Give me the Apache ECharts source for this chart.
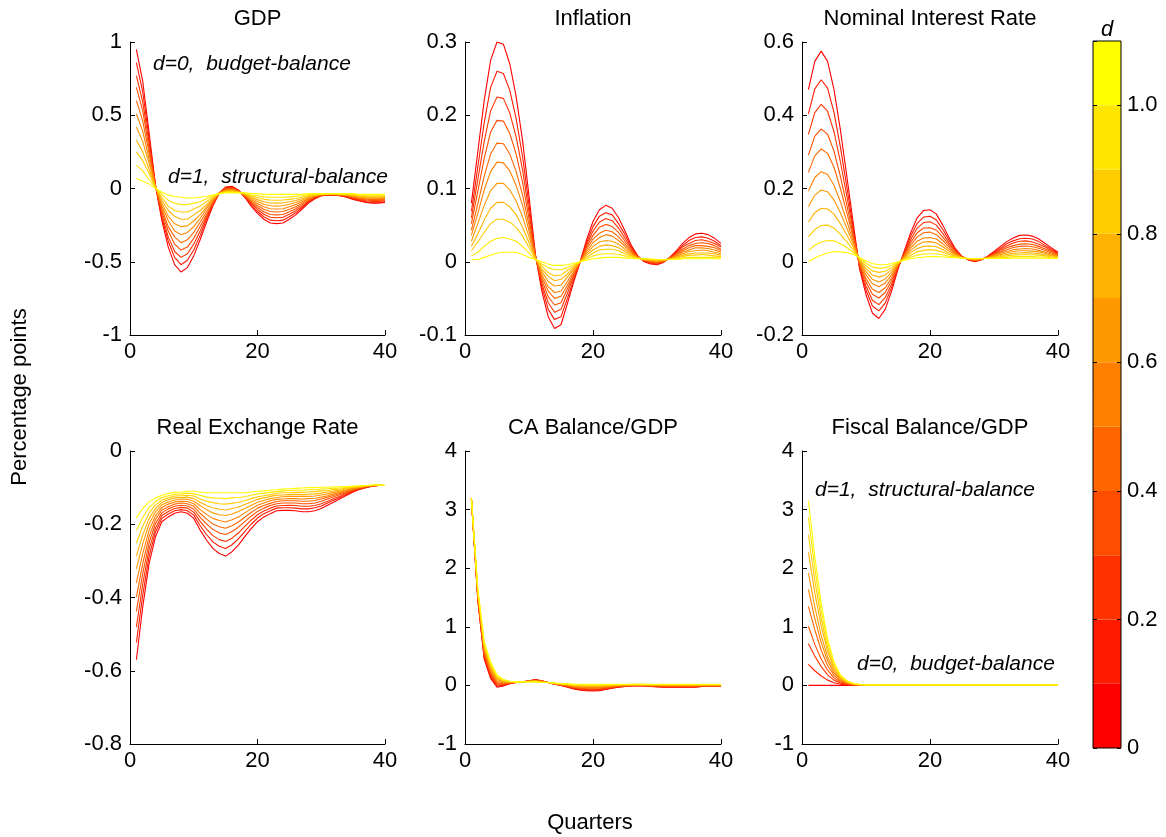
<!DOCTYPE html>
<html><head><meta charset="utf-8">
<script src="https://cdn.jsdelivr.net/npm/echarts@6/dist/echarts.min.js"></script>
<style>html,body{margin:0;padding:0;background:#fff}#c{width:1166px;height:837px}</style>
</head><body><div id="c"></div>
<script>
// ---------------- DATA ----------------
const quarters = [1,2,3,4,5,6,7,8,9,10,11,12,13,14,15,16,17,18,19,20,21,22,23,24,25,26,27,28,29,30,31,32,33,34,35,36,37,38,39,40];
const dLevels = [0,0.1,0.2,0.3,0.4,0.5,0.6,0.7,0.8,0.9,1.0];
const colorbarBand = 0.1;
const panelTitles = ['GDP','Inflation','Nominal Interest Rate','Real Exchange Rate','CA Balance/GDP','Fiscal Balance/GDP'];
const xTicks = [0,20,40];
const gdpTicks = [-1,-0.5,0,0.5,1];
const inflationTicks = [-0.1,0,0.1,0.2,0.3];
const interestTicks = [-0.2,0,0.2,0.4,0.6];
const rerTicks = [-0.8,-0.6,-0.4,-0.2,0];
const caTicks = [-1,0,1,2,3,4];
const fiscalTicks = [-1,0,1,2,3,4];
const colorbarTicks = [0,0.2,0.4,0.6,0.8,1.0];
const colorbarMax = 1.1;

// each row: one quarter, values for d = 0, 0.1, ..., 1.0
const gdp = [
[.95,.86,.77,.69,.60,.51,.42,.33,.25,.16,.07],
[.73,.66,.59,.53,.46,.39,.32,.25,.19,.12,.05],
[.38,.34,.31,.27,.24,.20,.17,.13,.10,.06,.03],
[.02,.02,.02,.015,.015,.01,.01,.01,.005,.005,0],
[-.22,-.20,-.18,-.16,-.14,-.12,-.10,-.08,-.06,-.04,-.025],
[-.40,-.36,-.33,-.29,-.26,-.22,-.19,-.15,-.12,-.08,-.045],
[-.52,-.47,-.43,-.38,-.33,-.29,-.24,-.19,-.15,-.10,-.055],
[-.57,-.52,-.47,-.42,-.37,-.315,-.26,-.21,-.16,-.11,-.06],
[-.54,-.49,-.445,-.40,-.35,-.30,-.255,-.21,-.16,-.11,-.065],
[-.46,-.42,-.38,-.34,-.30,-.26,-.22,-.18,-.14,-.10,-.065],
[-.35,-.32,-.29,-.26,-.23,-.205,-.18,-.15,-.12,-.09,-.06],
[-.23,-.21,-.195,-.18,-.16,-.14,-.125,-.11,-.09,-.07,-.055],
[-.12,-.11,-.105,-.10,-.09,-.08,-.075,-.07,-.06,-.05,-.045],
[-.03,-.03,-.03,-.03,-.03,-.03,-.03,-.035,-.035,-.035,-.035],
[.01,.006,.002,-.002,-.006,-.01,-.014,-.018,-.022,-.026,-.03],
[.015,.01,.006,.002,-.003,-.008,-.012,-.016,-.021,-.025,-.03],
[-.01,-.012,-.014,-.016,-.018,-.02,-.022,-.024,-.026,-.028,-.03],
[-.06,-.057,-.054,-.051,-.048,-.045,-.042,-.039,-.036,-.033,-.03],
[-.12,-.11,-.10,-.095,-.086,-.078,-.069,-.06,-.052,-.044,-.035],
[-.17,-.157,-.143,-.13,-.116,-.103,-.089,-.076,-.062,-.049,-.035],
[-.21,-.193,-.176,-.159,-.142,-.125,-.108,-.091,-.074,-.057,-.04],
[-.235,-.216,-.196,-.177,-.157,-.138,-.118,-.099,-.079,-.06,-.04],
[-.24,-.22,-.20,-.18,-.16,-.14,-.12,-.10,-.08,-.06,-.04],
[-.235,-.216,-.196,-.177,-.157,-.138,-.118,-.099,-.079,-.06,-.04],
[-.21,-.193,-.176,-.159,-.142,-.125,-.108,-.091,-.074,-.057,-.04],
[-.18,-.166,-.152,-.138,-.124,-.11,-.096,-.082,-.068,-.054,-.04],
[-.14,-.13,-.12,-.11,-.10,-.09,-.08,-.07,-.06,-.05,-.04],
[-.10,-.094,-.087,-.081,-.074,-.068,-.061,-.055,-.048,-.042,-.035],
[-.07,-.067,-.063,-.06,-.056,-.053,-.049,-.046,-.042,-.039,-.035],
[-.05,-.049,-.047,-.046,-.044,-.043,-.041,-.04,-.038,-.037,-.035],
[-.045,-.044,-.043,-.042,-.041,-.04,-.039,-.038,-.037,-.036,-.035],
[-.045,-.044,-.043,-.042,-.041,-.04,-.039,-.038,-.037,-.036,-.035],
[-.05,-.049,-.047,-.046,-.044,-.043,-.041,-.04,-.038,-.037,-.035],
[-.06,-.058,-.055,-.053,-.05,-.048,-.045,-.043,-.04,-.038,-.035],
[-.075,-.071,-.067,-.063,-.059,-.055,-.051,-.047,-.043,-.039,-.035],
[-.085,-.081,-.076,-.072,-.067,-.063,-.058,-.054,-.049,-.045,-.04],
[-.095,-.09,-.084,-.079,-.073,-.068,-.062,-.057,-.051,-.046,-.04],
[-.10,-.094,-.088,-.082,-.076,-.07,-.064,-.058,-.052,-.046,-.04],
[-.10,-.094,-.088,-.082,-.076,-.07,-.064,-.058,-.052,-.046,-.04],
[-.095,-.09,-.084,-.079,-.073,-.068,-.062,-.057,-.051,-.046,-.04]
];

const inflation = [
[.080,.069,.060,.052,.043,.036,.028,.021,.015,.008,.003],
[.150,.129,.112,.096,.079,.066,.052,.038,.027,.013,.003],
[.220,.190,.164,.141,.117,.098,.077,.057,.040,.021,.006],
[.275,.238,.206,.177,.147,.123,.097,.073,.052,.028,.009],
[.300,.260,.225,.193,.162,.136,.107,.081,.058,.032,.012],
[.297,.257,.223,.192,.161,.135,.107,.081,.058,.033,.013],
[.270,.234,.203,.175,.147,.124,.098,.075,.054,.031,.013],
[.225,.195,.170,.147,.123,.104,.083,.064,.047,.028,.013],
[.165,.143,.125,.108,.091,.077,.061,.047,.035,.021,.010],
[.090,.078,.068,.059,.050,.042,.034,.026,.019,.012,.006],
[.010,.009,.008,.007,.007,.006,.005,.005,.004,.003,.003],
[-.040,-.034,-.030,-.025,-.021,-.017,-.013,-.010,-.006,-.003,0],
[-.075,-.065,-.056,-.048,-.040,-.034,-.027,-.020,-.015,-.008,-.003],
[-.091,-.079,-.069,-.059,-.050,-.042,-.033,-.026,-.019,-.011,-.005],
[-.086,-.075,-.065,-.056,-.047,-.040,-.032,-.024,-.018,-.011,-.005],
[-.057,-.050,-.043,-.037,-.032,-.027,-.021,-.017,-.012,-.008,-.004],
[-.027,-.024,-.020,-.018,-.015,-.013,-.010,-.008,-.006,-.004,-.002],
[0,0,0,0,0,0,0,0,0,0,0],
[.030,.026,.023,.020,.017,.014,.011,.009,.006,.004,.002],
[.055,.048,.042,.036,.031,.026,.021,.016,.012,.008,.004],
[.071,.062,.054,.047,.039,.033,.027,.021,.016,.010,.005],
[.077,.067,.059,.051,.043,.037,.029,.023,.017,.011,.006],
[.073,.064,.056,.048,.041,.035,.028,.022,.017,.011,.006],
[.060,.052,.046,.040,.034,.029,.024,.019,.015,.010,.006],
[.042,.037,.032,.028,.024,.021,.017,.014,.011,.008,.005],
[.022,.020,.018,.016,.014,.012,.011,.009,.008,.006,.005],
[.008,.007,.007,.007,.006,.006,.005,.005,.005,.004,.004],
[0,.001,.001,.001,.002,.002,.003,.003,.003,.004,.004],
[-.003,-.002,-.001,0,0,.001,.002,.002,.003,.003,.004],
[-.004,-.003,-.002,-.001,-.001,0,.001,.001,.002,.003,.003],
[-.001,0,0,0,.001,.001,.002,.002,.002,.003,.003],
[.006,.006,.005,.005,.005,.004,.004,.004,.003,.003,.003],
[.015,.013,.012,.011,.009,.008,.007,.006,.005,.004,.003],
[.025,.022,.020,.017,.015,.013,.011,.009,.007,.005,.004],
[.033,.029,.025,.022,.019,.016,.014,.011,.009,.006,.004],
[.038,.033,.029,.025,.022,.019,.015,.012,.009,.006,.004],
[.039,.034,.030,.026,.022,.019,.016,.012,.010,.006,.004],
[.037,.032,.028,.025,.021,.018,.015,.012,.009,.006,.004],
[.032,.028,.025,.022,.019,.016,.013,.011,.008,.006,.004],
[.025,.022,.020,.017,.015,.013,.011,.009,.007,.005,.004]
];

const interest = [
[.470,.404,.348,.291,.244,.193,.150,.108,.068,.031,0],
[.547,.472,.407,.343,.289,.230,.182,.134,.088,.045,.010],
[.575,.497,.430,.363,.308,.246,.196,.146,.099,.054,.018],
[.547,.474,.411,.348,.296,.238,.191,.144,.100,.058,.024],
[.470,.408,.355,.302,.258,.209,.169,.130,.092,.057,.028],
[.360,.313,.273,.233,.200,.164,.134,.104,.075,.049,.027],
[.234,.205,.180,.155,.134,.111,.092,.073,.055,.039,.025],
[.106,.094,.084,.073,.065,.055,.048,.040,.032,.026,.020],
[-.020,-.016,-.012,-.008,-.005,-.001,.002,.005,.007,.010,.012],
[-.090,-.077,-.066,-.055,-.046,-.036,-.027,-.019,-.011,-.004,.002],
[-.140,-.121,-.105,-.089,-.075,-.060,-.048,-.036,-.025,-.014,-.005],
[-.155,-.134,-.117,-.099,-.084,-.068,-.055,-.042,-.029,-.018,-.008],
[-.130,-.113,-.098,-.084,-.071,-.058,-.047,-.036,-.026,-.016,-.008],
[-.080,-.070,-.061,-.052,-.044,-.036,-.029,-.022,-.016,-.010,-.005],
[-.020,-.017,-.015,-.012,-.010,-.008,-.006,-.005,-.003,-.001,0],
[.030,.026,.023,.020,.018,.015,.012,.010,.008,.006,.004],
[.080,.070,.061,.053,.045,.038,.031,.025,.018,.013,.008],
[.120,.105,.092,.079,.068,.056,.046,.036,.027,.018,.011],
[.140,.122,.107,.092,.079,.065,.054,.042,.031,.021,.013],
[.142,.124,.109,.093,.081,.066,.055,.043,.033,.022,.014],
[.130,.114,.100,.086,.074,.062,.051,.041,.031,.022,.014],
[.100,.088,.077,.067,.058,.049,.041,.033,.026,.019,.013],
[.065,.058,.051,.045,.040,.034,.029,.024,.020,.015,.012],
[.035,.032,.029,.026,.023,.021,.019,.017,.014,.013,.011],
[.015,.014,.014,.013,.013,.012,.012,.011,.011,.010,.010],
[.005,.006,.006,.007,.007,.007,.008,.008,.008,.009,.009],
[0,.001,.002,.003,.004,.005,.006,.007,.008,.008,.009],
[.005,.006,.006,.007,.007,.007,.008,.008,.008,.009,.009],
[.015,.014,.013,.013,.012,.011,.011,.010,.010,.009,.009],
[.028,.025,.023,.021,.019,.017,.015,.013,.012,.010,.009],
[.042,.037,.033,.029,.026,.023,.020,.017,.014,.011,.009],
[.055,.049,.043,.038,.033,.028,.024,.020,.016,.012,.009],
[.065,.057,.051,.044,.039,.033,.028,.023,.018,.014,.010],
[.072,.063,.056,.048,.042,.035,.030,.024,.019,.014,.010],
[.073,.064,.057,.049,.043,.036,.030,.025,.019,.014,.010],
[.070,.062,.054,.047,.041,.035,.029,.024,.019,.014,.010],
[.062,.055,.048,.042,.037,.031,.027,.022,.018,.013,.010],
[.050,.044,.040,.035,.031,.026,.023,.019,.016,.013,.010],
[.038,.034,.030,.027,.024,.021,.018,.016,.013,.011,.009],
[.026,.024,.022,.020,.018,.016,.014,.013,.011,.010,.009]
];

const rer = [
[-.570,-.523,-.481,-.438,-.399,-.360,-.322,-.287,-.252,-.217,-.182],
[-.425,-.393,-.363,-.334,-.307,-.280,-.253,-.229,-.205,-.181,-.157],
[-.307,-.287,-.268,-.250,-.233,-.216,-.199,-.184,-.169,-.154,-.139],
[-.234,-.221,-.210,-.198,-.187,-.177,-.166,-.157,-.147,-.138,-.128],
[-.193,-.184,-.176,-.169,-.161,-.154,-.147,-.140,-.134,-.127,-.121],
[-.180,-.172,-.165,-.158,-.152,-.145,-.139,-.133,-.128,-.122,-.116],
[-.170,-.163,-.157,-.151,-.145,-.139,-.134,-.128,-.123,-.118,-.113],
[-.166,-.160,-.154,-.148,-.142,-.137,-.131,-.127,-.122,-.117,-.112],
[-.170,-.163,-.156,-.150,-.144,-.138,-.132,-.126,-.121,-.115,-.110],
[-.184,-.175,-.167,-.159,-.151,-.144,-.137,-.130,-.123,-.117,-.110],
[-.216,-.204,-.192,-.181,-.170,-.160,-.149,-.140,-.131,-.121,-.112],
[-.243,-.228,-.213,-.199,-.186,-.173,-.160,-.149,-.137,-.126,-.114],
[-.266,-.248,-.231,-.214,-.199,-.184,-.169,-.155,-.141,-.128,-.114],
[-.280,-.260,-.242,-.224,-.207,-.190,-.174,-.159,-.144,-.129,-.114],
[-.287,-.266,-.247,-.228,-.211,-.194,-.176,-.161,-.145,-.130,-.114],
[-.275,-.256,-.238,-.220,-.204,-.188,-.172,-.157,-.143,-.128,-.114],
[-.257,-.240,-.224,-.208,-.194,-.180,-.165,-.153,-.140,-.127,-.114],
[-.234,-.220,-.206,-.193,-.181,-.169,-.157,-.146,-.136,-.125,-.114],
[-.212,-.200,-.189,-.178,-.168,-.158,-.148,-.139,-.130,-.121,-.112],
[-.193,-.183,-.174,-.165,-.156,-.148,-.140,-.132,-.125,-.117,-.110],
[-.180,-.171,-.164,-.156,-.149,-.142,-.135,-.128,-.122,-.115,-.109],
[-.171,-.163,-.156,-.149,-.143,-.136,-.130,-.124,-.119,-.113,-.107],
[-.163,-.156,-.150,-.144,-.138,-.132,-.127,-.121,-.116,-.111,-.106],
[-.162,-.155,-.149,-.142,-.136,-.131,-.125,-.120,-.114,-.109,-.104],
[-.162,-.155,-.148,-.142,-.136,-.130,-.124,-.119,-.114,-.108,-.103],
[-.163,-.156,-.149,-.142,-.136,-.130,-.124,-.118,-.113,-.107,-.102],
[-.166,-.158,-.151,-.144,-.137,-.131,-.124,-.119,-.113,-.107,-.101],
[-.166,-.158,-.151,-.144,-.137,-.130,-.124,-.118,-.112,-.106,-.100],
[-.163,-.155,-.149,-.142,-.135,-.129,-.123,-.117,-.111,-.106,-.100],
[-.157,-.150,-.144,-.137,-.131,-.126,-.120,-.115,-.109,-.104,-.099],
[-.148,-.142,-.137,-.131,-.126,-.122,-.117,-.112,-.108,-.103,-.099],
[-.139,-.134,-.130,-.125,-.121,-.117,-.113,-.109,-.105,-.102,-.098],
[-.130,-.126,-.123,-.119,-.116,-.113,-.110,-.107,-.104,-.101,-.098],
[-.121,-.118,-.115,-.113,-.110,-.108,-.106,-.103,-.101,-.099,-.097],
[-.112,-.110,-.108,-.107,-.105,-.103,-.102,-.100,-.099,-.097,-.096],
[-.105,-.104,-.103,-.102,-.101,-.100,-.099,-.098,-.097,-.096,-.095],
[-.100,-.099,-.099,-.098,-.097,-.097,-.096,-.096,-.095,-.095,-.094],
[-.096,-.096,-.095,-.095,-.095,-.094,-.094,-.094,-.094,-.093,-.093],
[-.094,-.094,-.094,-.094,-.094,-.093,-.093,-.093,-.093,-.093,-.093],
[-.094,-.094,-.094,-.094,-.094,-.094,-.094,-.094,-.094,-.094,-.094]
];

const caBalance = [
[3.18,3.18,3.18,3.19,3.19,3.19,3.19,3.19,3.20,3.20,3.20],
[1.45,1.47,1.49,1.51,1.53,1.55,1.57,1.59,1.61,1.63,1.65],
[.45,.48,.51,.54,.57,.60,.63,.66,.69,.72,.75],
[.12,.15,.18,.20,.23,.26,.29,.32,.34,.37,.40],
[-.03,-.01,.01,.03,.05,.075,.10,.12,.14,.16,.18],
[-.01,0,.01,.02,.03,.045,.06,.07,.08,.09,.10],
[.03,.034,.038,.042,.046,.05,.054,.058,.062,.066,.07],
[.05,.051,.052,.053,.054,.055,.056,.057,.058,.059,.06],
[.06,.06,.06,.06,.06,.06,.06,.06,.06,.06,.06],
[.08,.078,.076,.074,.072,.07,.068,.066,.064,.062,.06],
[.10,.096,.092,.088,.084,.08,.076,.072,.068,.064,.06],
[.08,.077,.074,.071,.068,.065,.062,.059,.056,.053,.05],
[.05,.05,.05,.05,.05,.05,.05,.05,.05,.05,.05],
[.02,.022,.024,.026,.028,.03,.032,.034,.036,.038,.04],
[0,.003,.006,.009,.012,.015,.018,.021,.024,.027,.03],
[-.03,-.024,-.018,-.012,-.006,0,.006,.012,.018,.024,.03],
[-.06,-.052,-.044,-.036,-.028,-.02,-.012,-.004,.004,.012,.02],
[-.08,-.07,-.06,-.05,-.04,-.03,-.02,-.01,0,.01,.02],
[-.09,-.079,-.068,-.057,-.046,-.035,-.024,-.013,-.002,.009,.02],
[-.095,-.084,-.072,-.061,-.049,-.038,-.026,-.015,-.003,.009,.02],
[-.09,-.079,-.068,-.057,-.046,-.035,-.024,-.013,-.002,.009,.02],
[-.07,-.061,-.052,-.043,-.034,-.025,-.016,-.007,.002,.011,.02],
[-.05,-.043,-.036,-.029,-.022,-.015,-.008,-.001,.006,.013,.02],
[-.03,-.025,-.02,-.015,-.01,-.005,0,.005,.01,.015,.02],
[-.02,-.016,-.012,-.008,-.004,0,.004,.008,.012,.016,.02],
[-.01,-.007,-.004,-.001,.002,.005,.008,.011,.014,.017,.02],
[-.01,-.007,-.004,-.001,.002,.005,.008,.011,.014,.017,.02],
[-.01,-.007,-.004,-.001,.002,.005,.008,.011,.014,.017,.02],
[-.02,-.016,-.012,-.008,-.004,0,.004,.008,.012,.016,.02],
[-.025,-.02,-.016,-.011,-.007,-.002,.002,.007,.011,.016,.02],
[-.03,-.025,-.02,-.015,-.01,-.005,0,.005,.01,.015,.02],
[-.03,-.025,-.02,-.015,-.01,-.005,0,.005,.01,.015,.02],
[-.03,-.025,-.02,-.015,-.01,-.005,0,.005,.01,.015,.02],
[-.03,-.025,-.02,-.015,-.01,-.005,0,.005,.01,.015,.02],
[-.03,-.025,-.02,-.015,-.01,-.005,0,.005,.01,.015,.02],
[-.03,-.025,-.02,-.015,-.01,-.005,0,.005,.01,.015,.02],
[-.02,-.016,-.012,-.008,-.004,0,.004,.008,.012,.016,.02],
[-.02,-.016,-.012,-.008,-.004,0,.004,.008,.012,.016,.02],
[-.02,-.016,-.012,-.008,-.004,0,.004,.008,.012,.016,.02],
[-.02,-.016,-.012,-.008,-.004,0,.004,.008,.012,.016,.02]
];

const fiscalBalance = [
[0,.36,.71,1.01,1.35,1.64,1.92,2.27,2.57,2.87,3.15],
[0,.25,.50,.70,.95,1.14,1.34,1.58,1.79,2.00,2.20],
[0,.16,.32,.45,.60,.73,.85,1.01,1.14,1.27,1.40],
[0,.09,.18,.26,.34,.42,.49,.58,.65,.73,.80],
[0,.046,.09,.128,.172,.208,.244,.288,.326,.364,.40],
[0,.021,.041,.058,.077,.094,.11,.13,.147,.164,.18],
[0,.009,.018,.026,.034,.042,.049,.058,.065,.073,.08],
[0,.004,.008,.011,.015,.018,.021,.025,.029,.032,.035],
[0,.002,.003,.005,.006,.008,.009,.011,.012,.014,.015],
[0,.001,.002,.003,.004,.005,.006,.007,.008,.009,.01],
[0,.001,.002,.003,.004,.005,.006,.007,.008,.009,.01],
[0,.001,.002,.003,.004,.005,.006,.007,.008,.009,.01],
[0,.001,.002,.003,.004,.005,.006,.007,.008,.009,.01],
[0,.001,.002,.003,.004,.005,.006,.007,.008,.009,.01],
[0,.001,.002,.003,.004,.005,.006,.007,.008,.009,.01],
[0,.001,.002,.003,.004,.005,.006,.007,.008,.009,.01],
[0,.001,.002,.003,.004,.005,.006,.007,.008,.009,.01],
[0,.001,.002,.003,.004,.005,.006,.007,.008,.009,.01],
[0,.001,.002,.003,.004,.005,.006,.007,.008,.009,.01],
[0,.001,.002,.003,.004,.005,.006,.007,.008,.009,.01],
[0,.001,.002,.003,.004,.005,.006,.007,.008,.009,.01],
[0,.001,.002,.003,.004,.005,.006,.007,.008,.009,.01],
[0,.001,.002,.003,.004,.005,.006,.007,.008,.009,.01],
[0,.001,.002,.003,.004,.005,.006,.007,.008,.009,.01],
[0,.001,.002,.003,.004,.005,.006,.007,.008,.009,.01],
[0,.001,.002,.003,.004,.005,.006,.007,.008,.009,.01],
[0,.001,.002,.003,.004,.005,.006,.007,.008,.009,.01],
[0,.001,.002,.003,.004,.005,.006,.007,.008,.009,.01],
[0,.001,.002,.003,.004,.005,.006,.007,.008,.009,.01],
[0,.001,.002,.003,.004,.005,.006,.007,.008,.009,.01],
[0,.001,.002,.003,.004,.005,.006,.007,.008,.009,.01],
[0,.001,.002,.003,.004,.005,.006,.007,.008,.009,.01],
[0,.001,.002,.003,.004,.005,.006,.007,.008,.009,.01],
[0,.001,.002,.003,.004,.005,.006,.007,.008,.009,.01],
[0,.001,.002,.003,.004,.005,.006,.007,.008,.009,.01],
[0,.001,.002,.003,.004,.005,.006,.007,.008,.009,.01],
[0,.001,.002,.003,.004,.005,.006,.007,.008,.009,.01],
[0,.001,.002,.003,.004,.005,.006,.007,.008,.009,.01],
[0,.001,.002,.003,.004,.005,.006,.007,.008,.009,.01],
[0,.001,.002,.003,.004,.005,.006,.007,.008,.009,.01]
];

// ---------------- STYLE / LAYOUT ----------------
const lineColors = ['#ff0000','#ff1a00','#ff3300','#ff4d00','#ff6600','#ff8000','#ff9900','#ffb300','#ffcc00','#ffe600','#ffff00'];
const FONT = "'Liberation Sans', Arial, Helvetica, sans-serif";
const FS = 22;      // titles, axis names, tick labels
const FS_ANN = 21;  // italic annotations
const panels = [
  {rows: gdp, ticks: gdpTicks, grid: {left:130, top:42, width:255, height:293}},
  {rows: inflation, ticks: inflationTicks, grid: {left:465, top:42, width:256, height:293}},
  {rows: interest, ticks: interestTicks, grid: {left:802, top:42, width:256, height:293}},
  {rows: rer, ticks: rerTicks, grid: {left:130, top:451, width:255, height:293}},
  {rows: caBalance, ticks: caTicks, grid: {left:465, top:451, width:256, height:293}},
  {rows: fiscalBalance, ticks: fiscalTicks, grid: {left:802, top:451, width:256, height:293}}
];
const cbGrid = {left:1093, top:41, width:28, height:707};

const grids = [], xAxes = [], yAxes = [], series = [], graphics = [];
const axisLineStyle = {color:'#000', width:1};
const labelStyle = {fontSize:FS, color:'#000', fontFamily:FONT};

panels.forEach((p, i) => {
  grids.push(Object.assign({containLabel:false}, p.grid));
  xAxes.push({
    gridIndex:i, type:'value', min:xTicks[0], max:xTicks[xTicks.length-1], interval:xTicks[1]-xTicks[0],
    axisLine:{show:true, onZero:false, lineStyle:axisLineStyle},
    axisTick:{show:true, inside:true, length:5, lineStyle:axisLineStyle},
    axisLabel:Object.assign({margin:6}, labelStyle),
    splitLine:{show:false}
  });
  const t = p.ticks;
  yAxes.push({
    gridIndex:i, type:'value', min:t[0], max:t[t.length-1], interval:+(t[1]-t[0]).toFixed(6),
    axisLine:{show:true, onZero:false, lineStyle:axisLineStyle},
    axisTick:{show:true, inside:true, length:5, lineStyle:axisLineStyle},
    axisLabel:Object.assign({margin:8}, labelStyle),
    splitLine:{show:false}
  });
  dLevels.forEach((d, k) => {
    series.push({
      type:'line', xAxisIndex:i, yAxisIndex:i, name:'d='+d,
      data: quarters.map((q, qi) => [q, p.rows[qi][k]]),
      showSymbol:false, symbol:'none', silent:true, z:2+k,
      lineStyle:{width:1.1, color:lineColors[k]}, itemStyle:{color:lineColors[k]}
    });
  });
  graphics.push({
    type:'text', x:p.grid.left + p.grid.width/2, y:p.grid.top - 23.5,
    style:{text:panelTitles[i], fill:'#000', font:FS+'px '+FONT, align:'center', verticalAlign:'middle'}
  });
});

// colorbar
const cbIndex = panels.length;
grids.push(Object.assign({show:true, borderColor:'#000', borderWidth:1, backgroundColor:'transparent', z:3}, cbGrid));
xAxes.push({gridIndex:cbIndex, type:'category', data:[''], show:false, boundaryGap:true});
const cbLabel = v => colorbarTicks.some(t => Math.abs(t - v) < 1e-9) ? (v === 0 ? '0' : v.toFixed(1)) : '';
yAxes.push({
  gridIndex:cbIndex, type:'value', min:0, max:colorbarMax, interval:colorbarTicks[1]-colorbarTicks[0], position:'left',
  axisLine:{show:false}, axisTick:{show:true, inside:true, length:4, lineStyle:axisLineStyle},
  axisLabel:{show:false}, splitLine:{show:false}, z:5
});
yAxes.push({
  gridIndex:cbIndex, type:'value', min:0, max:colorbarMax, interval:colorbarTicks[1]-colorbarTicks[0], position:'right',
  axisLine:{show:false}, axisTick:{show:true, inside:true, length:4, lineStyle:axisLineStyle},
  axisLabel:Object.assign({margin:6, formatter:cbLabel, showMaxLabel:false}, labelStyle), splitLine:{show:false}, z:5
});
dLevels.forEach((d, k) => {
  series.push({
    type:'bar', xAxisIndex:cbIndex, yAxisIndex:cbIndex, stack:'cb', silent:true,
    data:[colorbarBand], barWidth:'100%', barCategoryGap:'0%', z:1,
    itemStyle:{color:lineColors[k]}
  });
});

const italic = 'italic ' + FS_ANN + 'px ' + FONT;
graphics.push(
  {type:'text', x:cbGrid.left + cbGrid.width/2, y:30, style:{text:'d', fill:'#000', font:'italic '+FS+'px '+FONT, align:'center', verticalAlign:'middle'}},
  {type:'text', x:153, y:64, style:{text:'d=0,  budget-balance', fill:'#000', font:italic, align:'left', verticalAlign:'middle'}},
  {type:'text', x:168, y:177, style:{text:'d=1,  structural-balance', fill:'#000', font:italic, align:'left', verticalAlign:'middle'}},
  {type:'text', x:815, y:490, style:{text:'d=1,  structural-balance', fill:'#000', font:italic, align:'left', verticalAlign:'middle'}},
  {type:'text', x:857, y:664, style:{text:'d=0,  budget-balance', fill:'#000', font:italic, align:'left', verticalAlign:'middle'}},
  {type:'text', x:20, y:397, rotation:Math.PI/2, style:{text:'Percentage points', fill:'#000', font:FS+'px '+FONT, align:'center', verticalAlign:'middle'}},
  {type:'text', x:590, y:823, style:{text:'Quarters', fill:'#000', font:FS+'px '+FONT, align:'center', verticalAlign:'middle'}}
);

const chart = echarts.init(document.getElementById('c'), null, {renderer:'canvas'});
chart.setOption({
  animation:false,
  backgroundColor:'#fff',
  grid:grids, xAxis:xAxes, yAxis:yAxes, series:series,
  graphic:{elements:graphics}
});
</script>
</body></html>
